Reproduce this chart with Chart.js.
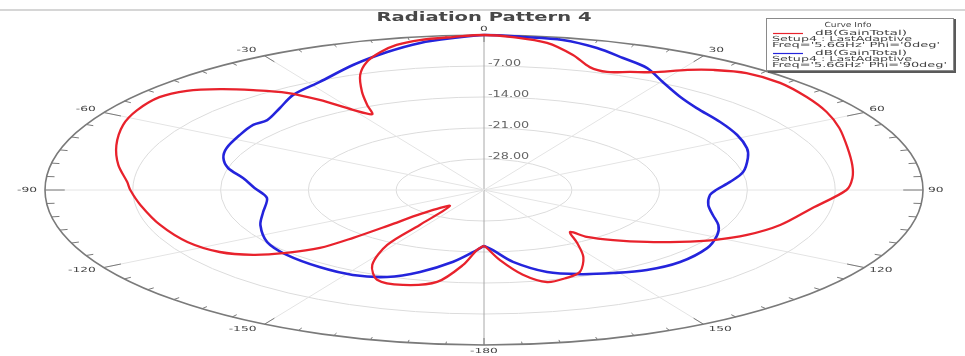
<!DOCTYPE html>
<html>
<head>
<meta charset="utf-8">
<script src="https://cdn.jsdelivr.net/npm/chart.js@4.4.1/dist/chart.umd.min.js"></script>
<style>
html,body{margin:0;padding:0;background:#fff;}
#wrap{width:965px;height:356px;position:relative;}
</style>
</head>
<body>
<div id="wrap"><canvas id="polar"></canvas></div>
<script>
// theta in degrees (clockwise from top), gain in dB
const redTheta = [-180,-177.6,-174.4,-169.8,-163.2,-157.2,-152.2,-148.1,-147,-143,-137,-136.5,-136,-135,-132,-128.5,-123.6,-116.4,-107,-97,-90,-86.4,-79,-71,-63,-57,-51,-46.6,-42.7,-39.2,-35.6,-32.8,-30,-27.5,-25.9,-23.7,-20.8,-17.9,-14.9,-12,-8.6,-4.1,0,3.8,8.6,13.1,16.9,20.2,23.6,26.8,30.9,34,38.4,44.3,50.8,57.2,63.7,71.9,79.1,84.7,90,98.8,108.5,115.8,121.7,126.9,132.1,137.7,142.3,144.1,148.2,152.4,157.5,161.6,166.4,170.8,175.4,179,180];
const redGain = [-22.4,-21.4,-18.0,-13.9,-12.6,-13.0,-15.9,-20.4,-25.6,-30.5,-27.7,-24.0,-20.0,-16.5,-13.8,-11.5,-9.7,-8.6,-8.0,-7.4,-6.8,-6.5,-5.3,-4.0,-2.7,-2.0,-1.7,-2.4,-4.0,-5.9,-8.0,-10.8,-14.1,-15.7,-13.7,-10.8,-7.2,-4.6,-2.8,-1.5,-0.75,-0.37,0,-0.38,-1.4,-3.7,-6.0,-6.6,-5.9,-5.2,-3.4,-2.3,-1.3,-1.2,-1.8,-2.5,-3.4,-4.5,-5.1,-5.5,-6.1,-8.5,-10.1,-11.7,-13.5,-15.5,-17.5,-19.7,-21.6,-23.3,-20.9,-17.9,-15.0,-14.1,-13.6,-15.6,-19.1,-21.9,-22.4];
const blueTheta = [-180,-177.6,-171.4,-164.6,-158.5,-151.4,-143,-133,-124.2,-113.9,-105.8,-96,-88.6,-82,-76.3,-70.8,-65.2,-57.4,-51.4,-47.6,-41.3,-35.4,-28.2,-20.3,-13.9,-8.7,-4.1,0,5.1,10.5,15.7,20.4,25.3,30.3,36.7,42.5,50.8,58.4,65.7,71,78.9,84.7,90,93.6,100.7,107.2,113,118.7,126.4,136.1,144.3,151.2,158,164.8,171.9,177,180];
const blueGain = [-22.4,-21.4,-18.6,-15.8,-13.9,-13.15,-13.2,-13.5,-14.1,-15.5,-16.7,-17.6,-16.7,-15.6,-14.0,-13.0,-12.4,-11.9,-11.45,-11.6,-10.35,-8.7,-7.3,-4.9,-2.9,-1.4,-0.6,0,-0.3,-0.55,-1.7,-3.2,-4.55,-6.75,-8.8,-9.9,-10.7,-11.3,-12.0,-12.75,-13.95,-15.3,-16.5,-16.95,-16.8,-15.9,-14.7,-13.8,-12.9,-12.45,-12.75,-13.6,-14.5,-15.8,-18.6,-21.4,-22.4];

const radialTicks = [-28, -21, -14, -7];
const radialLabels = ['-28.00', '-21.00', '-14.00', '-7.00'];
const angleTicks = [0, 30, 60, 90, 120, 150, 180, -150, -120, -90, -60, -30];
const angleLabels = ['0', '30', '60', '90', '120', '150', '-180', '-150', '-120', '-90', '-60', '-30'];
const rMin = -35, rMax = 0;

const titleText = 'Radiation Pattern 4';
const legendHeader = 'Curve Info';
const legendName = 'dB(GainTotal)';
const legendSetup = 'Setup4 : LastAdaptive';
const legendFreq = ["Freq='5.6GHz' Phi='0deg'", "Freq='5.6GHz' Phi='90deg'"];

const RED = '#e8222c', BLUE = '#2424dc';

function toXY(theta, g) {
  const rho = (g - rMin) / (rMax - rMin);
  const a = theta * Math.PI / 180;
  return { x: rho * Math.sin(a), y: rho * Math.cos(a) };
}

function txt(ctx, s, x, y, font, sx, align, color) {
  ctx.save();
  ctx.font = font;
  ctx.fillStyle = color;
  ctx.textBaseline = 'middle';
  ctx.textAlign = align;
  ctx.translate(x, y);
  ctx.scale(sx, 1);
  ctx.fillText(s, 0, 0);
  ctx.restore();
}

function fitTxt(ctx, s, x, y, font, w, align, color) {
  ctx.save();
  ctx.font = font;
  const sx = w / ctx.measureText(s).width;
  ctx.restore();
  txt(ctx, s, x, y, font, sx, align, color);
}

const polarGrid = {
  id: 'polarGrid',
  beforeDatasetsDraw(chart) {
    const ctx = chart.ctx, xs = chart.scales.x, ys = chart.scales.y;
    const cx = xs.getPixelForValue(0), cy = ys.getPixelForValue(0);
    const rx = xs.getPixelForValue(1) - cx, ry = cy - ys.getPixelForValue(1);
    ctx.save();
    // top border line
    ctx.strokeStyle = '#c8c8c8';
    ctx.lineWidth = 1.5;
    ctx.beginPath(); ctx.moveTo(0, 10); ctx.lineTo(chart.width, 10); ctx.stroke();
    // inner rings
    ctx.strokeStyle = '#dcdcdc';
    ctx.lineWidth = 1;
    radialTicks.forEach(t => {
      const rho = (t - rMin) / (rMax - rMin);
      ctx.beginPath();
      ctx.ellipse(cx, cy, rx * rho, ry * rho, 0, 0, Math.PI * 2);
      ctx.stroke();
    });
    // spokes
    angleTicks.forEach(a => {
      const p = toXY(a, rMax);
      ctx.strokeStyle = (a === 0 || a === 180) ? '#a8a8a8' : '#e4e4e4';
      ctx.beginPath();
      ctx.moveTo(cx, cy);
      ctx.lineTo(xs.getPixelForValue(p.x), ys.getPixelForValue(p.y));
      ctx.stroke();
    });
    // outer ring
    ctx.strokeStyle = '#7a7a7a';
    ctx.lineWidth = 1.6;
    ctx.beginPath();
    ctx.ellipse(cx, cy, rx, ry, 0, 0, Math.PI * 2);
    ctx.stroke();
    // ticks every 5 deg
    ctx.lineWidth = 1;
    for (let a = -175; a <= 180; a += 5) {
      const len = (a % 30 === 0) ? 0.045 : 0.018;
      const r = Math.PI * a / 180;
      ctx.beginPath();
      ctx.moveTo(cx + rx * Math.sin(r), cy - ry * Math.cos(r));
      ctx.lineTo(cx + rx * (1 - len) * Math.sin(r), cy - ry * (1 - len) * Math.cos(r));
      ctx.stroke();
    }
    ctx.restore();
  },
  afterDraw(chart) {
    const ctx = chart.ctx, xs = chart.scales.x, ys = chart.scales.y;
    const cx = xs.getPixelForValue(0), cy = ys.getPixelForValue(0);
    const rx = xs.getPixelForValue(1) - cx, ry = cy - ys.getPixelForValue(1);
    // radial labels
    radialTicks.forEach((t, i) => {
      const rho = (t - rMin) / (rMax - rMin);
      txt(ctx, radialLabels[i], cx + 4, cy - ry * rho - 2, '8px "DejaVu Sans"', 1.6, 'left', '#666');
    });
    // angle labels
    angleTicks.forEach((a, i) => {
      const r = Math.PI * a / 180;
      const s = Math.sin(r), c = Math.cos(r);
      let x = cx + rx * s, y = cy - ry * c - 6 * c;
      let align = 'center';
      if (s > 0.1) { align = 'left'; x += 5; }
      else if (s < -0.1) { align = 'right'; x -= 8; }
      txt(ctx, angleLabels[i], x, y, '7px "DejaVu Sans"', 1.75, align, '#444');
    });
    // title
    fitTxt(ctx, titleText, 484, 17.5, 'bold 13px "DejaVu Sans"', 215, 'center', '#484848');
    // legend box
    ctx.save();
    ctx.fillStyle = '#fff';
    ctx.fillRect(766, 18, 187, 52);
    ctx.strokeStyle = '#8a8a8a';
    ctx.lineWidth = 1;
    ctx.strokeRect(766.5, 18.5, 187, 52);
    ctx.strokeStyle = '#5a5a5a';
    ctx.lineWidth = 2;
    ctx.beginPath(); ctx.moveTo(955, 19); ctx.lineTo(955, 72); ctx.lineTo(768, 72); ctx.stroke();
    ctx.restore();
    fitTxt(ctx, legendHeader, 848, 25, '7px "DejaVu Sans"', 47, 'center', '#444');
    chart.data.datasets.forEach((ds, i) => {
      const y0 = 33.5 + i * 20;
      ctx.save();
      ctx.strokeStyle = ds.borderColor;
      ctx.lineWidth = 1.2;
      ctx.beginPath(); ctx.moveTo(773, y0); ctx.lineTo(803, y0); ctx.stroke();
      ctx.restore();
      fitTxt(ctx, legendName, 815, y0, '7px "DejaVu Sans"', 92, 'left', '#444');
      fitTxt(ctx, legendSetup, 772, y0 + 6, '7px "DejaVu Sans"', 140, 'left', '#444');
      fitTxt(ctx, legendFreq[i], 772, y0 + 11.5, '7px "DejaVu Sans"', i ? 175 : 168, 'left', '#444');
    });
  }
};

const ctx = document.getElementById('polar');
new Chart(ctx, {
  type: 'scatter',
  data: {
    datasets: [
      { label: 'Phi=0deg', data: redTheta.map((t, i) => toXY(t, redGain[i])), borderColor: RED, backgroundColor: RED, borderWidth: 2.3, showLine: true, pointRadius: 0, tension: 0.3 },
      { label: 'Phi=90deg', data: blueTheta.map((t, i) => toXY(t, blueGain[i])), borderColor: BLUE, backgroundColor: BLUE, borderWidth: 2.6, showLine: true, pointRadius: 0, tension: 0.3 }
    ]
  },
  options: {
    responsive: true,
    maintainAspectRatio: false,
    animation: false,
    layout: { padding: 0 },
    plugins: { legend: { display: false }, tooltip: { enabled: false }, title: { display: false } },
    scales: {
      x: { type: 'linear', display: false, min: -484 / 439, max: 481 / 439 },
      y: { type: 'linear', display: false, min: -166 / 155, max: 190 / 155 }
    }
  },
  plugins: [polarGrid]
});
</script>
</body>
</html>
